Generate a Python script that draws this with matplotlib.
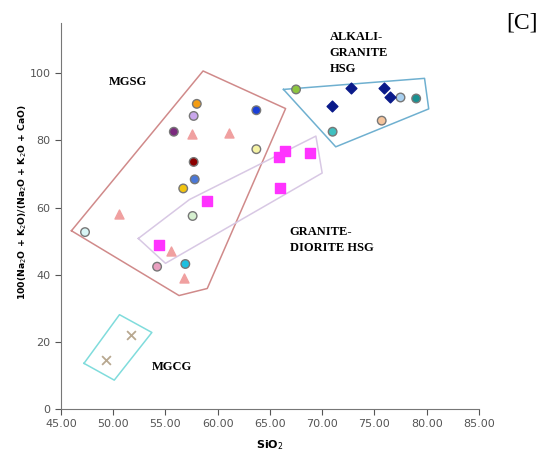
import numpy as np
import matplotlib.pyplot as plt

# circles (individual samples, each its own colour)
circ_x = [58.0, 57.7, 63.7, 55.8, 63.7, 57.7, 57.8, 56.7, 57.6, 47.3, 54.2, 56.9,
          67.5, 77.5, 79.0, 75.7, 71.0]
circ_y = [90.9, 87.3, 89.0, 82.6, 77.4, 73.6, 68.4, 65.7, 57.5, 52.7, 42.4, 43.2,
          95.2, 92.8, 92.5, 85.9, 82.6]
circ_c = ["#f39c12", "#c9a7ec", "#1a3fd8", "#7b2a7e", "#f5f3a4", "#8b0000", "#4a78d8",
          "#f2c40f", "#d6f0d0", "#d8f4f4", "#e9a0c0", "#1ec0e0",
          "#8dc63f", "#a8d0f0", "#1a9090", "#f5c49c", "#40c0c0"]

# triangles
tri_x = [57.5, 61.1, 50.6, 55.5, 56.8]
tri_y = [81.8, 82.2, 58.0, 47.2, 39.0]

# squares
sq_x = [59.0, 54.4, 66.4, 65.9, 66.0, 68.8]
sq_y = [62.0, 48.9, 76.9, 75.1, 65.9, 76.3]

# diamonds
dia_x = [72.8, 75.9, 76.5, 70.9]
dia_y = [95.6, 95.6, 93.0, 90.4]

# crosses
cr_x = [49.3, 51.7]
cr_y = [14.5, 22.1]

# field outlines
mgsg_x = [46.0, 58.6, 66.5, 59.0, 56.3, 46.0]
mgsg_y = [53.1, 100.7, 89.5, 35.9, 33.8, 53.1]
gd_x = [52.4, 57.3, 69.4, 70.0, 55.0, 52.4]
gd_y = [50.8, 62.4, 81.3, 70.3, 43.4, 50.8]
alk_x = [66.3, 79.8, 80.2, 71.3, 66.3]
alk_y = [95.2, 98.5, 89.4, 78.1, 95.2]
mgcg_x = [47.2, 50.6, 53.7, 50.1, 47.2]
mgcg_y = [13.6, 28.1, 22.8, 8.6, 13.6]

fig = plt.figure(figsize=(5.52, 4.51), dpi=100)
ax = fig.add_axes([0.1105, 0.0931, 0.757, 0.856])

ax.plot(mgsg_x, mgsg_y, color="#d08a8a", lw=1.1)
ax.plot(gd_x, gd_y, color="#d8c8e4", lw=1.1)
ax.plot(alk_x, alk_y, color="#6fb0d0", lw=1.1)
ax.plot(mgcg_x, mgcg_y, color="#80dcdc", lw=1.1)

ax.scatter(circ_x, circ_y, s=38, c=circ_c, edgecolors="#777777", linewidths=1.0, zorder=3)
ax.scatter(tri_x, tri_y, s=42, marker="^", c="#f0a0a0", zorder=3)
ax.scatter(sq_x, sq_y, s=48, marker="s", c="#ff33ff", zorder=3)
ax.scatter(dia_x, dia_y, s=30, marker="D", c="#0a1a8a", zorder=3)
ax.scatter(cr_x, cr_y, s=40, marker="x", c="#b8a890", linewidths=1.3, zorder=3)

serif = "Liberation Serif"
ax.text(51.4, 97.3, "MGSG", family=serif, weight="bold", fontsize=9, ha="center", va="center")
ax.text(70.7, 112.6, "ALKALI-\nGRANITE\nHSG", family=serif, weight="bold", fontsize=9,
        ha="left", va="top", linespacing=1.45)
ax.text(66.9, 54.4, "GRANITE-\nDIORITE HSG", family=serif, weight="bold", fontsize=9,
        ha="left", va="top", linespacing=1.4)
ax.text(53.7, 12.5, "MGCG", family=serif, weight="bold", fontsize=9, ha="left", va="center")
fig.text(0.945, 0.95, "[C]", family=serif, fontsize=17, ha="center", va="center")

ax.set_xlim(45, 85)
ax.set_ylim(0, 115)
ax.set_xticks(np.arange(45, 86, 5))
ax.set_xticklabels([f"{v:.2f}" for v in np.arange(45, 86, 5)])
ax.set_yticks(np.arange(0, 101, 20))
ax.tick_params(colors="#555555", labelsize=8, length=4, labelcolor="#555555")
for s in ["top", "right"]:
    ax.spines[s].set_visible(False)
for s in ["left", "bottom"]:
    ax.spines[s].set_color("#777777")

ax.set_xlabel("SiO$_2$", fontsize=8, weight="bold", labelpad=6)
ax.set_ylabel("100(Na$_2$O + K$_2$O)/(Na$_2$O + K$_2$O + CaO)", fontsize=6.7, weight="bold")
ax.yaxis.set_label_coords(-0.077, 0.535)

fig.savefig("out.png", dpi=100)
